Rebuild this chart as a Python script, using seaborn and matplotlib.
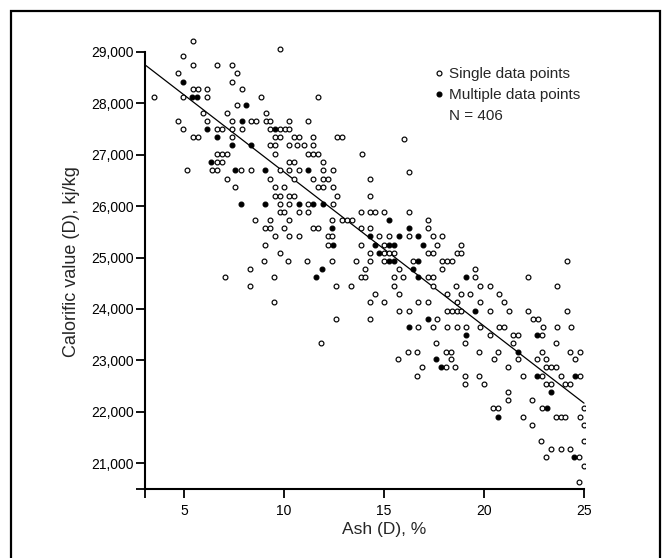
import matplotlib
matplotlib.use("Agg")
import matplotlib.pyplot as plt
import seaborn as sns
import pandas as pd
from matplotlib.lines import Line2D
from matplotlib.patches import Rectangle

# ---------------- data ----------------
# Single data points: one calorific-value level per row, with the ash values on it
single_cv = [29215, 29060, 28915, 28750, 28595, 28420, 28270, 28115, 27960, 27800,
             27645, 27490, 27335, 27300, 27180, 27010, 26855, 26700, 26670, 26530,
             26365, 26200, 26040, 25877, 25722, 25565, 25410, 25250, 25090, 24938,
             24773, 24614, 24450, 24290, 24130, 23966, 23814, 23655, 23493, 23340,
             23172, 23022, 22864, 22702, 22547, 22378, 22223, 22067, 21905, 21743,
             21432, 21277, 21115, 20953, 20642]
single_ash = [
    [5.47], [9.80], [4.97], [5.47, 6.63, 7.38], [4.72, 7.63], [7.38],
    [5.47, 5.68, 6.17, 7.88],
    [3.52, 4.97, 6.17, 8.83, 11.72],
    [7.63],
    [5.93, 7.13, 9.08],
    [4.72, 6.17, 7.38, 8.35, 8.58, 9.08, 9.32, 10.27, 11.22],
    [4.97, 6.63, 6.88, 7.38, 7.88, 9.32, 9.80, 10.05, 10.27],
    [5.43, 5.68, 7.38, 9.55, 9.80, 10.50, 10.75, 11.47, 12.67, 12.92],
    [16.02],
    [9.32, 9.55, 10.27, 10.63, 10.98, 11.47],
    [6.63, 6.88, 7.13, 9.55, 11.22, 11.47, 11.72, 13.88],
    [6.63, 6.88, 10.27, 10.50, 11.93],
    [5.17, 6.42, 6.63, 7.83, 8.35, 9.80, 10.27, 10.75, 11.93, 12.43],
    [16.27],
    [7.13, 9.32, 10.50, 11.47, 11.93, 12.18, 14.30],
    [7.55, 9.55, 10.02, 11.72, 11.93, 12.43],
    [9.55, 9.80, 10.27, 10.50, 12.65, 14.30],
    [9.80, 10.27, 11.22, 12.43],
    [9.80, 10.02, 10.75, 11.22, 13.85, 14.30, 14.55, 15.02, 16.23],
    [8.55, 9.32, 10.27, 12.42, 12.88, 13.13, 13.38, 17.20],
    [9.05, 9.32, 10.02, 11.47, 11.72, 13.85, 14.30, 17.20],
    [9.55, 10.27, 10.75, 12.18, 12.42, 14.77, 15.27, 16.23, 17.43, 17.90],
    [9.05, 12.18, 13.85, 15.02, 17.67, 18.85],
    [9.80, 14.30, 15.02, 15.27, 15.50, 17.20, 17.43, 18.63, 18.85],
    [9.02, 10.22, 11.17, 12.38, 13.58, 14.30, 15.02, 16.47, 17.88, 18.13, 18.38, 24.13],
    [8.30, 14.05, 15.73, 17.88, 19.55],
    [7.05, 9.50, 13.85, 14.05, 15.50, 15.97, 17.20, 17.43, 19.55, 22.22],
    [8.30, 12.60, 13.35, 15.50, 17.43, 18.58, 19.80, 20.30, 23.63],
    [14.55, 15.73, 18.13, 18.85, 19.30, 20.77],
    [9.50, 14.30, 15.02, 16.72, 17.20, 18.63, 19.80, 21.00],
    [15.73, 16.23, 18.13, 18.38, 18.63, 18.85, 20.30, 21.25, 22.22, 24.13],
    [12.60, 14.30, 17.67, 22.47, 22.68],
    [16.72, 17.43, 18.13, 18.63, 19.10, 19.80, 20.77, 21.00, 22.93, 23.63, 24.33],
    [20.30, 21.47, 21.72, 22.88],
    [11.85, 17.60, 19.05, 21.47, 23.60],
    [16.18, 16.67, 18.10, 18.35, 19.77, 20.72, 22.88, 24.30, 24.80],
    [15.72, 18.35, 20.50, 21.68, 22.63, 23.10, 24.55],
    [16.90, 18.10, 18.55, 21.22, 23.10, 23.35, 23.60],
    [16.67, 19.05, 19.77, 21.93, 22.88, 23.83, 24.80],
    [19.05, 20.02, 23.10, 23.35, 24.05, 24.30],
    [21.22],
    [21.22, 22.38],
    [20.47, 20.72, 22.88, 25.00],
    [21.93, 23.60, 23.83, 24.07, 24.80],
    [22.38, 25.00],
    [22.85, 25.00],
    [23.35, 23.83, 24.30],
    [23.10, 24.77],
    [25.00],
    [24.77],
]

# Multiple data points
multi_cv = [28420, 28115, 27960, 27645, 27490, 27335, 27180, 26855, 26700, 26040,
            25722, 25565, 25410, 25250, 25090, 24938, 24773, 24614, 23966, 23814,
            23655, 23493, 23172, 23022, 22864, 22702, 22378, 22067, 21905, 21115]
multi_ash = [
    [4.97], [5.38, 5.67], [8.08], [7.88], [6.17, 9.55], [6.63], [7.38, 8.35],
    [6.35], [7.55, 9.05, 11.22], [7.83, 9.05, 10.75, 11.43, 11.93],
    [15.27], [12.42, 16.23], [14.30, 15.73, 16.72],
    [12.43, 14.55, 15.27, 15.50, 16.97], [14.77], [15.27, 15.50, 16.72],
    [11.88, 16.47], [11.62, 16.72, 19.10], [19.55], [17.20], [16.23],
    [19.10, 22.63], [21.68], [17.60], [17.85], [22.63, 24.55], [23.35],
    [23.13], [20.72], [24.52],
]

# Fitted line (end points)
fit_ash = [3.1, 25.0]
fit_cv = [28730, 22170]

x_ticks = [5, 10, 15, 20, 25]
y_ticks = [21000, 22000, 23000, 24000, 25000, 26000, 27000, 28000, 29000]
y_tick_labels = ["21,000", "22,000", "23,000", "24,000", "25,000",
                 "26,000", "27,000", "28,000", "29,000"]
legend_labels = ["Single data points", "Multiple data points", "N = 406"]
x_title = "Ash (D), %"
y_title = "Calorific value (D), kj/kg"

# ---------------- build tables ----------------
single = pd.DataFrame([(a, cv) for cv, row in zip(single_cv, single_ash) for a in row],
                      columns=["ash", "cv"])
multi = pd.DataFrame([(a, cv) for cv, row in zip(multi_cv, multi_ash) for a in row],
                     columns=["ash", "cv"])

# ---------------- style ----------------
sns.set_style("ticks")
plt.rcParams["font.family"] = ["Liberation Sans", "DejaVu Sans"]

XMIN, XMAX = 3.05, 25.05
YMIN, YMAX = 20495, 29350

fig = plt.figure(figsize=(6.69, 5.58), dpi=100)
ax = fig.add_axes([145 / 669, 1 - 489.3 / 558, 440 / 669, (489.3 - 33.7) / 558])

ms = 12
sns.scatterplot(data=single, x="ash", y="cv", ax=ax, marker="o", s=ms,
                color="white", edgecolor="black", linewidth=0.85, zorder=3)
sns.scatterplot(data=multi, x="ash", y="cv", ax=ax, marker="o", s=ms,
                color="black", edgecolor="black", linewidth=0.85, zorder=4)
sns.lineplot(x=fit_ash, y=fit_cv, ax=ax, color="black", linewidth=0.9, zorder=2)

ax.set_xlim(XMIN, XMAX)
ax.set_ylim(YMIN, YMAX)

ax.set_xticks([XMIN] + x_ticks)
ax.set_xticklabels([""] + [str(v) for v in x_ticks])
ax.set_yticks([YMIN] + y_ticks)
ax.set_yticklabels([""] + y_tick_labels)

ax.tick_params(axis="both", direction="out", length=6.5, width=1.3, color="black",
               labelsize=10, labelcolor="black")
ax.tick_params(axis="y", pad=1.5)
ax.tick_params(axis="x", pad=4)

for s in ["top", "right"]:
    ax.spines[s].set_visible(False)
for s in ["left", "bottom"]:
    ax.spines[s].set_linewidth(1.5)
    ax.spines[s].set_color("black")
ax.spines["left"].set_bounds(YMIN, 29000)
ax.spines["bottom"].set_bounds(XMIN, 25)

ax.set_xlabel(x_title, fontsize=12.5)
ax.xaxis.set_label_coords((15 - XMIN) / (XMAX - XMIN), -0.072)
ax.set_ylabel(y_title, fontsize=13, labelpad=8)

handles = [
    Line2D([], [], marker="o", linestyle="none", markersize=3.5,
           markerfacecolor="white", markeredgecolor="black", markeredgewidth=0.85),
    Line2D([], [], marker="o", linestyle="none", markersize=3.5,
           markerfacecolor="black", markeredgecolor="black", markeredgewidth=0.85),
    Line2D([], [], linestyle="none"),
]
ax.legend(handles, legend_labels, loc="upper left",
          bbox_to_anchor=(434.4 / 669, 1 - 67 / 558), bbox_transform=fig.transFigure,
          frameon=False, fontsize=11, handlelength=0.6, handletextpad=0.35,
          labelspacing=0.45, borderpad=0, borderaxespad=0)

# outer frame of the figure
fig.add_artist(Rectangle((10.7 / 669, -0.1), (660 - 10.7) / 669, 1 - 11.5 / 558 + 0.1,
                         transform=fig.transFigure, fill=False, linewidth=1.6,
                         edgecolor="black", clip_on=False))

fig.savefig("out.png", dpi=100, facecolor="white")
